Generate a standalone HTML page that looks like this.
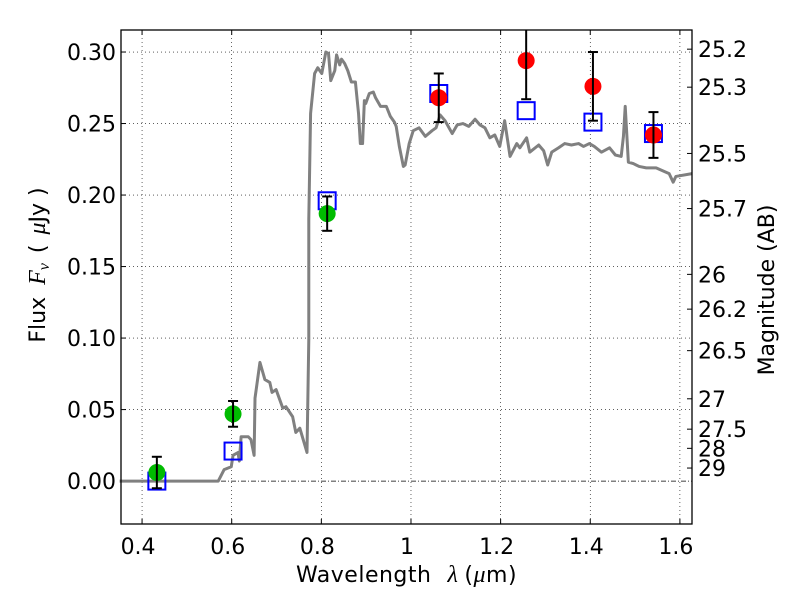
<!DOCTYPE html>
<html><head><meta charset="utf-8"><style>
body{margin:0;background:#fff}
svg{display:block;font-family:"DejaVu Sans","Liberation Sans",sans-serif}
</style></head><body>
<svg id="chart" width="800" height="600"></svg>
<script>
const specWl=[0.350,0.570,0.583,0.599,0.603,0.614,0.617,0.621,0.637,0.643,0.650,0.652,0.663,0.674,0.685,0.690,0.699,0.714,0.721,0.736,0.743,0.752,0.768,0.772,0.772,0.776,0.785,0.792,0.801,0.810,0.816,0.821,0.830,0.834,0.841,0.845,0.852,0.859,0.867,0.876,0.883,0.887,0.892,0.896,0.899,0.907,0.916,0.921,0.932,0.945,0.954,0.963,0.967,0.974,0.983,0.987,0.996,1.005,1.018,1.032,1.047,1.056,1.065,1.076,1.092,1.103,1.116,1.129,1.143,1.154,1.165,1.176,1.187,1.198,1.209,1.221,1.236,1.243,1.258,1.265,1.285,1.296,1.305,1.314,1.329,1.343,1.358,1.374,1.385,1.398,1.409,1.425,1.443,1.456,1.469,1.474,1.478,1.485,1.496,1.509,1.525,1.547,1.576,1.585,1.591,1.627];
const specFlux=[0,0,0.008,0.010,0.018,0.020,0.014,0.031,0.031,0.029,0.018,0.058,0.083,0.071,0.069,0.062,0.064,0.051,0.052,0.045,0.034,0.037,0.020,0.099,0.183,0.257,0.285,0.289,0.285,0.300,0.299,0.280,0.287,0.298,0.291,0.295,0.292,0.287,0.279,0.279,0.257,0.236,0.236,0.266,0.264,0.271,0.272,0.268,0.262,0.262,0.255,0.251,0.248,0.234,0.220,0.221,0.236,0.245,0.247,0.241,0.245,0.247,0.256,0.252,0.243,0.249,0.250,0.248,0.253,0.249,0.247,0.240,0.242,0.234,0.252,0.227,0.236,0.233,0.240,0.230,0.235,0.231,0.221,0.230,0.233,0.236,0.235,0.236,0.234,0.236,0.234,0.230,0.233,0.228,0.227,0.241,0.262,0.223,0.222,0.220,0.219,0.219,0.215,0.209,0.213,0.215];
const modelWl=[0.433,0.603,0.813,1.062,1.257,1.406,1.541];
const modelFlux=[0.000,0.021,0.196,0.271,0.259,0.251,0.243];
const greenWl=[0.433,0.603,0.813];
const greenFlux=[0.006,0.047,0.187];
const greenErr=[0.011,0.009,0.012];
const redWl=[1.062,1.257,1.406,1.541];
const redFlux=[0.268,0.294,0.276,0.242];
const redErr=[0.017,0.027,0.024,0.016];
const xTicks=[0.4,0.6,0.8,1.0,1.2,1.4,1.6];
const xTickLabels=["0.4","0.6","0.8","1","1.2","1.4","1.6"];
const yTicks=[0,0.05,0.10,0.15,0.20,0.25,0.30];
const yTickLabels=["0.00","0.05","0.10","0.15","0.20","0.25","0.30"];
const magTicks=[25.2,25.3,25.5,25.7,26,26.2,26.5,27,27.5,28,29];
const magLabels=["25.2","25.3","25.5","25.7","26","26.2","26.5","27","27.5","28","29"];

const L=121,R=692,T=30,B=524,X0=0.353,X1=1.627,Y0=-0.030,Y1=0.3154;
const sx=v=>L+(v-X0)/(X1-X0)*(R-L);
const sy=v=>B-(v-Y0)/(Y1-Y0)*(B-T);
const svg=document.getElementById('chart');
const NS='http://www.w3.org/2000/svg';
function mk(tag,attrs,parent){const e=document.createElementNS(NS,tag);for(const k in attrs)e.setAttribute(k,attrs[k]);(parent||svg).appendChild(e);return e;}

xTicks.forEach((t,i)=>{
  const g=mk('line',{x1:sx(t),x2:sx(t),y1:T,y2:B,stroke:'#000','stroke-width':0.6,'stroke-dasharray':'1,3'});
  
  
  const tk=mk('line',{x1:sx(t),x2:sx(t),y1:B,y2:B-5,stroke:'#000'});
  
  
  mk('line',{x1:sx(t),x2:sx(t),y1:T,y2:T+5,stroke:'#000'});
  const tx=mk('text',{x:sx(t)-4,y:B+30,'font-size':22,'text-anchor':'middle'});
  tx.textContent=xTickLabels[i];
  
  
});
yTicks.forEach((t,i)=>{
  if(t!==0){
    const g=mk('line',{x1:L,x2:R,y1:sy(t),y2:sy(t),stroke:'#000','stroke-width':0.6,'stroke-dasharray':'1,3'});
    
    
  }
  const tk=mk('line',{x1:L,x2:L+5,y1:sy(t),y2:sy(t),stroke:'#000'});
  
  
  const tx=mk('text',{x:L-5,y:sy(t)+8,'font-size':22,'text-anchor':'end'});
  tx.textContent=yTickLabels[i];
  
  
});
magTicks.forEach((m,i)=>{
  const f=Math.pow(10,(23.9-m)/2.5);
  const tk=mk('line',{x1:R-5,x2:R,y1:sy(f),y2:sy(f),stroke:'#000'});
  
  
  const tx=mk('text',{x:R+6,y:sy(f)+8,'font-size':22});
  tx.textContent=magLabels[i];
  
  
});
const z=mk('line',{x1:L,x2:R,y1:sy(0),y2:sy(0),stroke:'#000','stroke-width':0.7,'stroke-dasharray':'5,2,1,2'});


const sp=mk('polyline',{points:specWl.map((w,i)=>sx(w)+','+sy(specFlux[i])).join(' '),fill:'none',stroke:'#808080','stroke-width':3,'stroke-linejoin':'round'});


modelWl.forEach((w,i)=>{
  const r=mk('rect',{x:sx(w)-8.5,y:sy(modelFlux[i])-8.5,width:17,height:17,fill:'none',stroke:'#0000ff','stroke-width':2});
  
  
});
function errPts(ws,fs,es,col,nm){
  ws.forEach((w,i)=>{
    const x=sx(w),yt=Math.max(T,sy(fs[i]+es[i])),yb=sy(fs[i]-es[i]);
    const c=mk('circle',{cx:x,cy:sy(fs[i]),r:8.5,fill:col});
    
    
    const e=mk('line',{x1:x,x2:x,y1:yt,y2:yb,stroke:'#000','stroke-width':2});
    
    
    if(sy(fs[i]+es[i])>=T) mk('line',{x1:x-5,x2:x+5,y1:yt,y2:yt,stroke:'#000','stroke-width':2});
    mk('line',{x1:x-5,x2:x+5,y1:yb,y2:yb,stroke:'#000','stroke-width':2});
  });
}
errPts(greenWl,greenFlux,greenErr,'#00bb00','observed-point-green');
errPts(redWl,redFlux,redErr,'#ff0000','observed-point-red');
const fr=mk('rect',{x:L,y:T,width:R-L,height:B-T,fill:'none',stroke:'#000','stroke-width':1.3});


const xl=mk('text',{x:(L+R)/2,y:582,'font-size':22,'text-anchor':'middle','letter-spacing':'0.5'});
xl.innerHTML='Wavelength<tspan dx="16" font-style="italic" font-family="Liberation Serif,serif" font-size="24">λ</tspan><tspan dx="6">(</tspan><tspan font-style="italic" font-family="Liberation Serif,serif" font-size="24">μ</tspan>m)';


const yl=mk('text',{x:0,y:0,'font-size':22,'text-anchor':'middle',transform:'translate(45,265) rotate(-90)'});
yl.innerHTML='Flux<tspan dx="12" font-style="italic" font-family="Liberation Serif,serif" font-size="24">F<tspan font-size="16" dy="4">ν</tspan></tspan><tspan dy="-4" dx="10">(</tspan><tspan dx="10" font-style="italic" font-family="Liberation Serif,serif" font-size="24">μ</tspan>Jy )';


const ml=mk('text',{x:0,y:0,'font-size':22,'text-anchor':'middle',transform:'translate(774,290) rotate(-90)'});
ml.textContent='Magnitude (AB)';


</script>
</body></html>
